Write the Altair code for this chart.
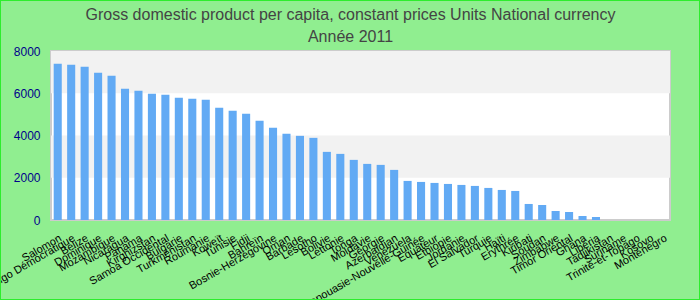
import altair as alt
import pandas as pd

countries = [
    "Salomon", "Congo Démocratique", "Belize", "Dominique", "Mozambique", "Nicaragua",
    "Panama", "Kirghizstan", "Samoa Occidental", "Bulgarie", "Turkménistan", "Roumanie",
    "Koweït", "Tunisie", "Fidji", "Bahreïn", "Bosnie-Herzégovine", "Oman", "Barbade",
    "Lesotho", "Bolivie", "Lettonie", "Tonga", "Moldavie", "Géorgie", "Azerbaïdjan",
    "Venezuela", "Papouasie-Nouvelle-Guinée", "Equateur", "Ethiopie", "Jordanie",
    "El Salvador", "Turquie", "Haïti", "Erythrée", "Kiribati", "Soudan", "Zimbabwe",
    "Timor Oriental", "Ghana", "Libéria", "Tadjikistan", "Suriname", "Trinité-et-Tobago",
    "Kosovo", "Monténégro",
]

values = [
    7399, 7352, 7257, 6972, 6830, 6213, 6118, 5976, 5929, 5786, 5739, 5692,
    5312, 5170, 5028, 4696, 4364, 4079, 3984, 3889, 3225, 3130, 2846, 2656,
    2609, 2372, 1850, 1802, 1755, 1707, 1660, 1613, 1518, 1423, 1375, 759,
    711, 427, 379, 190, 142, 0, 0, 0, 0, 0,
]

band_lo = [2000, 6000]
band_hi = [4000, 8000]
y_ticks = [0, 2000, 4000, 6000, 8000]

df = pd.DataFrame({"pays": countries, "valeur": values})
bands = pd.DataFrame({"lo": band_lo, "hi": band_hi})

yscale = alt.Scale(domain=[0, 8000], nice=False)

band_layer = alt.Chart(bands).mark_rect(color="#f2f2f2").encode(
    y=alt.Y("lo:Q", scale=yscale),
    y2="hi:Q",
)

bars = alt.Chart(df).mark_bar(color="#62aaf4").encode(
    x=alt.X(
        "pays:N",
        sort=countries,
        title=None,
        scale=alt.Scale(paddingInner=0.4, paddingOuter=0.2),
        axis=alt.Axis(
            labelAngle=-30,
            labelAlign="right",
            labelBaseline="top",
            labelFontSize=11,
            labelFont="Liberation Sans",
            labelColor="#000000",
            labelPadding=12,
            ticks=False,
            domain=False,
            labelOverlap=False,
            labelLimit=0,
        ),
    ),
    y=alt.Y(
        "valeur:Q",
        scale=yscale,
        title=None,
        axis=alt.Axis(
            values=y_ticks,
            format="d",
            grid=False,
            ticks=False,
            domain=False,
            labelFontSize=12,
            labelFont="Liberation Sans",
            labelColor="#00008B",
            labelPadding=11,
        ),
    ),
)

frame = alt.Chart(df).mark_rect(
    fill="transparent", stroke="#2ded2d", strokeWidth=2
).encode(
    x=alt.value(-51), x2=alt.value(649), y=alt.value(-51), y2=alt.value(249)
)

chart = alt.layer(band_layer, bars, frame).properties(
    width=619,
    height=169,
    padding={"left": 51, "top": 51, "right": 30, "bottom": 80},
    autosize=alt.AutoSizeParams(type="none"),
    background="#90ee90",
    title=alt.TitleParams(
        ["Gross domestic product per capita, constant prices Units National currency", "Année 2011"],
        fontSize=16,
        font="Liberation Sans",
        fontWeight="normal",
        color="#444444",
        anchor="middle",
        dx=-10,
        dy=46,
        lineHeight=22,
        offset=0,
    ),
).configure_view(
    fill="white", stroke="#cccccc", strokeWidth=2
)

chart.save("out.html", embed_options={"renderer": "svg", "actions": False})
